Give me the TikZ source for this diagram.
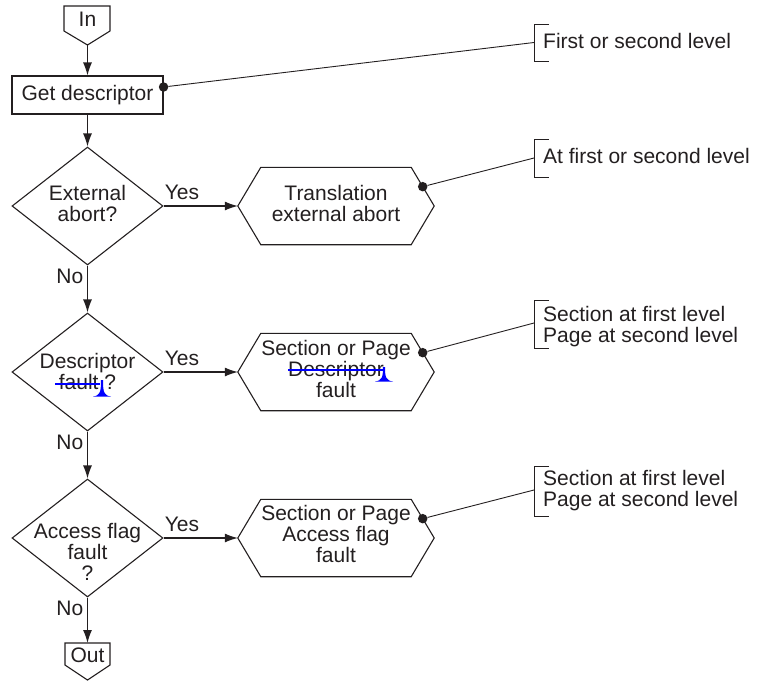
\documentclass[tikz,border=0pt]{standalone}
\usepackage{fontspec}
\setmainfont{Liberation Sans}
\usetikzlibrary{arrows.meta,calc,shapes.geometric}
\definecolor{ink}{HTML}{231F20}
\definecolor{rev}{RGB}{0,0,255}
\newcommand\hexdraw[1]{\draw[ln] ([xshift=23pt]#1.north west) -- ([xshift=-23pt]#1.north east) -- (#1.east) -- ([xshift=-23pt]#1.south east) -- ([xshift=23pt]#1.south west) -- (#1.west) -- cycle;}
\newcommand\revmark[3]{\fill[rev] ({#1-9},#3) .. controls ({#1-2},{#3-1}) and ({#1-1},{#3-4}) .. ({#1-1},#2) -- ({#1+1},#2) .. controls ({#1+1},{#3-4}) and ({#1+2},{#3-1}) .. ({#1+9},#3) -- cycle;}
\begin{document}
\begin{tikzpicture}[x=1pt,y=-1pt,
  every node/.style={font=\fontsize{21}{21}\selectfont, text=ink},
  ln/.style={draw=ink, line width=1.1pt},
  arr/.style={ln, -{Latex[length=13pt,width=9pt]}},
  box/.style={draw=ink, line width=1.1pt, minimum width=151pt, minimum height=38pt, inner sep=0pt},
  dia/.style={diamond, draw=ink, line width=1.1pt, minimum width=151pt, minimum height=118pt, inner sep=0pt},
  hexb/.style={minimum width=196pt, minimum height=77pt, inner sep=0pt},
  txt/.style={align=center, inner sep=0pt},
  dot/.style={circle, fill=ink, inner sep=0pt, minimum size=9.5pt},
  lab/.style={inner sep=0pt, anchor=base west},
  yn/.style={inner sep=0pt},
]
\useasboundingbox (0,0) rectangle (761,681);

% In terminal
\node[txt, anchor=base] (in) at (87.5,26.5) {In};
\draw[ln] (64,6) -- (110,6) -- (110,31) -- (87.5,45) -- (64,31) -- cycle;
\coordinate (inP) at (87.5,45);

% Get descriptor
\node[box] (gd) at (87.5,95) {Get descriptor};

% Diamonds
\node[dia] (d1) at (87.5,206) {};
\node[dia] (d2) at (87.5,372) {};
\node[dia] (d3) at (87.5,538) {};
\node[txt] (d1t) at (87.5,203.5) {External\\abort?};
\node[txt] (d2t) at (87.5,371.5) {Descriptor\\fault\hspace{6pt}?};
\node[txt] (d3t) at (87.5,552) {Access flag\\fault\\?};

% Hexagons
\node[hexb] (h1) at (336,206) {};
\node[hexb] (h2) at (336,372) {};
\node[hexb] (h3) at (336,538) {};
\hexdraw{h1}\hexdraw{h2}\hexdraw{h3}
\node[txt] (h1t) at (336,203) {Translation\\external abort};
\node[txt] (h2t) at (336,368.5) {Section or Page\\Descriptor\\fault};
\node[txt] (h3t) at (336,534) {Section or Page\\Access flag\\fault};

% Out terminal
\node[txt, anchor=base] (out) at (87.5,662) {Out};
\draw[ln] (65,643) -- (110,643) -- (110,665) -- (87.5,680) -- (65,665) -- cycle;
\coordinate (outT) at (87.5,643);

% Flow arrows
\draw[arr] (inP) -- (gd.north);
\draw[arr] (gd.south) -- (d1.north);
\draw[arr] (d1.south) -- (d2.north);
\draw[arr] (d2.south) -- (d3.north);
\draw[arr] (d3.south) -- (outT);
\draw[arr] (d1.east) -- (h1.west);
\draw[arr] (d2.east) -- (h2.west);
\draw[arr] (d3.east) -- (h3.west);

% Yes / No labels
\node[yn, anchor=base west] (y1) at ($(d1.east)+(1,-7)$) {Yes};
\node[yn, anchor=base west] (y2) at ($(d2.east)+(1,-7)$) {Yes};
\node[yn, anchor=base west] (y3) at ($(d3.east)+(1,-7)$) {Yes};
\node[yn, anchor=base east] (n1) at ($(d1.south)+(-4,18)$) {No};
\node[yn, anchor=base east] (n2) at ($(d2.south)+(-4,18)$) {No};
\node[yn, anchor=base east] (n3) at ($(d3.south)+(-4,18)$) {No};

% Annotation dots
\node[dot] (p0) at ($(gd.east)+(0,-8)$) {};
\node[dot] (p1) at ($([xshift=-23pt]h1.north east)!0.5!(h1.east)$) {};
\node[dot] (p2) at ($([xshift=-23pt]h2.north east)!0.5!(h2.east)$) {};
\node[dot] (p3) at ($([xshift=-23pt]h3.north east)!0.5!(h3.east)$) {};

% Brackets
\coordinate (b0) at (534,42.5);
\coordinate (b1) at (534,158);
\coordinate (b2) at (534,323);
\coordinate (b3) at (534,490);
\draw[ln, line width=0.9pt] (549,24) -| (534,61) -- (549,61);
\draw[ln, line width=0.9pt] (549,139) -| (534,177) -- (549,177);
\draw[ln, line width=0.9pt] (549,300) -| (534,348) -- (549,348);
\draw[ln, line width=0.9pt] (549,466) -| (534,516) -- (549,516);
\draw[ln, line width=0.9pt] (p0) -- (b0);
\draw[ln, line width=0.9pt] (p1) -- (b1);
\draw[ln, line width=0.9pt] (p2) -- (b2);
\draw[ln, line width=0.9pt] (p3) -- (b3);

% Annotation texts
\node[lab] (a0) at (543,48) {First or second level};
\node[lab] (a1) at (543,163.5) {At first or second level};
\node[lab] (a2) at (543,321) {Section at first level};
\node[lab] (a2b) at (543,342) {Page at second level};
\node[lab] (a3) at (543,485) {Section at first level};
\node[lab] (a3b) at (543,506) {Page at second level};

% Revision marks
\draw[rev, line width=1.1pt] (55,384) -- (100,384);
\revmark{102}{380}{396.5}
\draw[rev, line width=1.1pt] (288,370) -- (385,370);
\revmark{384}{367}{381.5}
\end{tikzpicture}
\end{document}
